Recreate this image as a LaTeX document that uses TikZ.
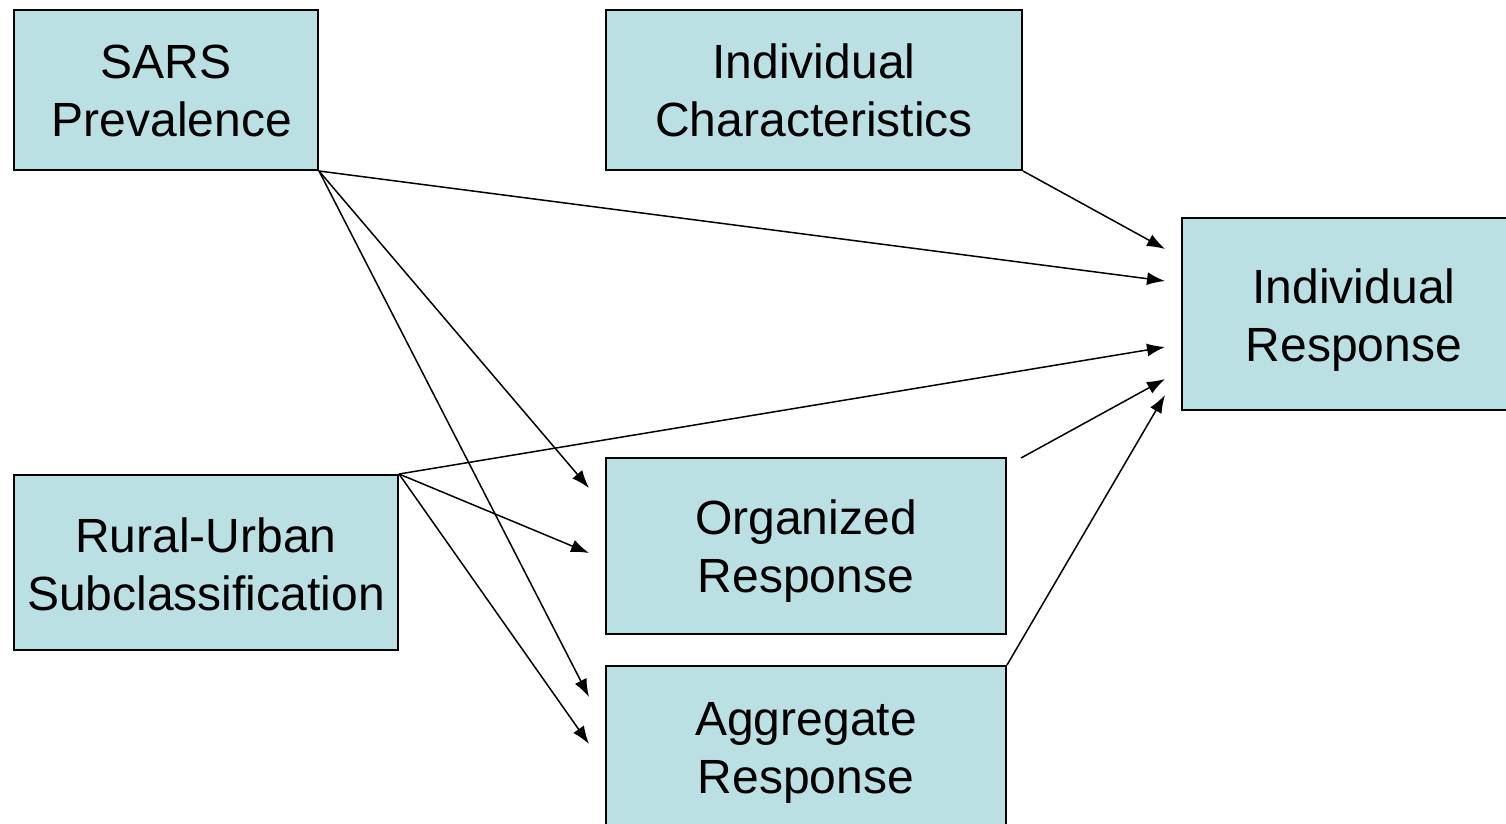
\documentclass[tikz,border=0pt]{standalone}
\usepackage{fontspec}
\setmainfont{Liberation Sans}
\usetikzlibrary{arrows.meta}
\definecolor{boxfill}{HTML}{BBE0E3}
\tikzset{
  box/.style={draw=black, line width=2pt, fill=boxfill, inner sep=0pt},
  boxtext/.style={inner sep=0pt, align=center, font=\fontsize{48}{58}\selectfont},
  conn/.style={line width=1.5pt, -{Latex[length=18pt,width=13pt]}}
}
\begin{document}
\begin{tikzpicture}[x=1pt,y=-1pt]
\useasboundingbox (0,0) rectangle (1506,823);
\node[box, minimum width=304pt, minimum height=160pt] (sars) at (166,90) {};
\node[boxtext] (sarsT) at (172,91) {\hspace*{-12pt}SARS\\Prevalence};
\node[box, minimum width=416pt, minimum height=160pt] (ic) at (814,90) {};
\node[boxtext] (icT) at (ic.center) {Individual\\Characteristics};
\node[box, minimum width=348pt, minimum height=192pt] (ir) at (1356,314) {};
\node[boxtext] (irT) at (1354,320) {Individual\\Response};
\node[box, minimum width=384pt, minimum height=175pt] (ru) at (206,562.5) {};
\node[boxtext] (ruT) at (206,564.5) {Rural-Urban\\Subclassification};
\node[box, minimum width=400pt, minimum height=176pt] (or) at (806,546) {};
\node[boxtext] (orT) at (806,551) {Organized\\Response};
\node[box, minimum width=400pt, minimum height=176pt] (ar) at (806,754) {};
\node[boxtext] (arT) at (806,753) {Aggregate\\Response};
\coordinate (irA) at (1165,249);
\coordinate (irB) at (1165,281);
\coordinate (irC) at (1165,347);
\coordinate (irD) at (1165,379);
\coordinate (irE) at (1165,395);
\coordinate (orA) at (589,488);
\coordinate (orB) at (589,553);
\coordinate (arA) at (589,697);
\coordinate (arB) at (589,744);
\coordinate (orStart) at (1021,458);
\draw[conn] (ic.south east) -- (irA);
\draw[conn] (sars.south east) -- (irB);
\draw[conn] (sars.south east) -- (orA);
\draw[conn] (sars.south east) -- (arA);
\draw[conn] (ru.north east) -- (irC);
\draw[conn] (ru.north east) -- (orB);
\draw[conn] (ru.north east) -- (arB);
\draw[conn] (orStart) -- (irD);
\draw[conn] (ar.north east) -- (irE);
\end{tikzpicture}
\end{document}
